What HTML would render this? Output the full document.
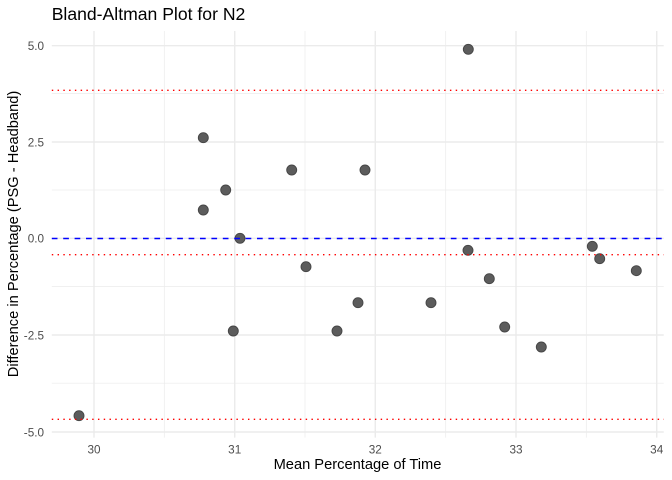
<!DOCTYPE html>
<html><head><meta charset="utf-8"><style>
html,body{margin:0;padding:0;background:#fff;}
svg{display:block;font-family:"Liberation Sans",Arial,sans-serif;}
</style></head><body>
<svg width="672" height="480" viewBox="0 0 672 480" xmlns="http://www.w3.org/2000/svg">
<rect width="672" height="480" fill="#fff"/>
<!-- minor grid -->
<g stroke="#EBEBEB" stroke-width="0.71" fill="none">
<line x1="51.8" x2="663.7" y1="93.4" y2="93.4"/>
<line x1="51.8" x2="663.7" y1="190" y2="190"/>
<line x1="51.8" x2="663.7" y1="286.6" y2="286.6"/>
<line x1="51.8" x2="663.7" y1="383.2" y2="383.2"/>
<line y1="31" y2="437.6" x1="164.3" x2="164.3"/>
<line y1="31" y2="437.6" x1="305" x2="305"/>
<line y1="31" y2="437.6" x1="445.7" x2="445.7"/>
<line y1="31" y2="437.6" x1="586.3" x2="586.3"/>
</g>
<!-- major grid -->
<g stroke="#EBEBEB" stroke-width="1.42" fill="none">
<line x1="51.8" x2="663.7" y1="45.7" y2="45.7"/>
<line x1="51.8" x2="663.7" y1="142" y2="142"/>
<line x1="51.8" x2="663.7" y1="238.3" y2="238.3"/>
<line x1="51.8" x2="663.7" y1="335" y2="335"/>
<line x1="51.8" x2="663.7" y1="432" y2="432"/>
<line y1="31" y2="437.6" x1="94" x2="94"/>
<line y1="31" y2="437.6" x1="234.7" x2="234.7"/>
<line y1="31" y2="437.6" x1="375.3" x2="375.3"/>
<line y1="31" y2="437.6" x1="516" x2="516"/>
<line y1="31" y2="437.6" x1="656.7" x2="656.7"/>
</g>
<!-- points -->
<g fill="#5c5c5c" stroke="#454545" stroke-width="0.9">
<circle cx="79" cy="415.7" r="5"/>
<circle cx="203.3" cy="137.7" r="5"/>
<circle cx="203.3" cy="210" r="5"/>
<circle cx="225.7" cy="190" r="5"/>
<circle cx="240" cy="238.3" r="5"/>
<circle cx="233.3" cy="331" r="5"/>
<circle cx="291.7" cy="170" r="5"/>
<circle cx="306" cy="266.7" r="5"/>
<circle cx="337" cy="331" r="5"/>
<circle cx="358" cy="302.7" r="5"/>
<circle cx="365" cy="170" r="5"/>
<circle cx="431" cy="302.7" r="5"/>
<circle cx="468.3" cy="49.3" r="5"/>
<circle cx="468" cy="250.3" r="5"/>
<circle cx="489.3" cy="278.7" r="5"/>
<circle cx="504.7" cy="327" r="5"/>
<circle cx="541.3" cy="347" r="5"/>
<circle cx="592.3" cy="246.3" r="5"/>
<circle cx="599.7" cy="258.7" r="5"/>
<circle cx="636.3" cy="270.7" r="5"/>
</g>
<!-- reference lines -->
<line x1="51.8" x2="663.7" y1="238.5" y2="238.5" stroke="#0000FF" stroke-width="1.5" stroke-dasharray="5.7 5.7"/>
<g stroke="#FF0000" stroke-width="1.42" stroke-dasharray="1.44 4.33">
<line x1="51.8" x2="663.7" y1="90.3" y2="90.3"/>
<line x1="51.8" x2="663.7" y1="254.7" y2="254.7"/>
<line x1="51.8" x2="663.7" y1="419.3" y2="419.3"/>
</g>
<!-- y tick labels -->
<g fill="#4D4D4D" font-size="11.73" text-anchor="end">
<text x="44" y="50">5.0</text>
<text x="44" y="146.3">2.5</text>
<text x="44" y="242.6">0.0</text>
<text x="44" y="339.3">-2.5</text>
<text x="44" y="436.3">-5.0</text>
</g>
<!-- x tick labels -->
<g fill="#4D4D4D" font-size="11.73" text-anchor="middle">
<text x="94" y="453.3">30</text>
<text x="234.7" y="453.3">31</text>
<text x="375.3" y="453.3">32</text>
<text x="516" y="453.3">33</text>
<text x="656.7" y="453.3">34</text>
</g>
<!-- titles -->
<text x="357.5" y="469" font-size="14.67" text-anchor="middle" fill="#000">Mean Percentage of Time</text>
<text transform="translate(18,234) rotate(-90)" font-size="14.67" text-anchor="middle" fill="#000">Difference in Percentage (PSG - Headband)</text>
<text x="51.7" y="20" font-size="17.6" fill="#000">Bland-Altman Plot for N2</text>
</svg>
</body></html>
